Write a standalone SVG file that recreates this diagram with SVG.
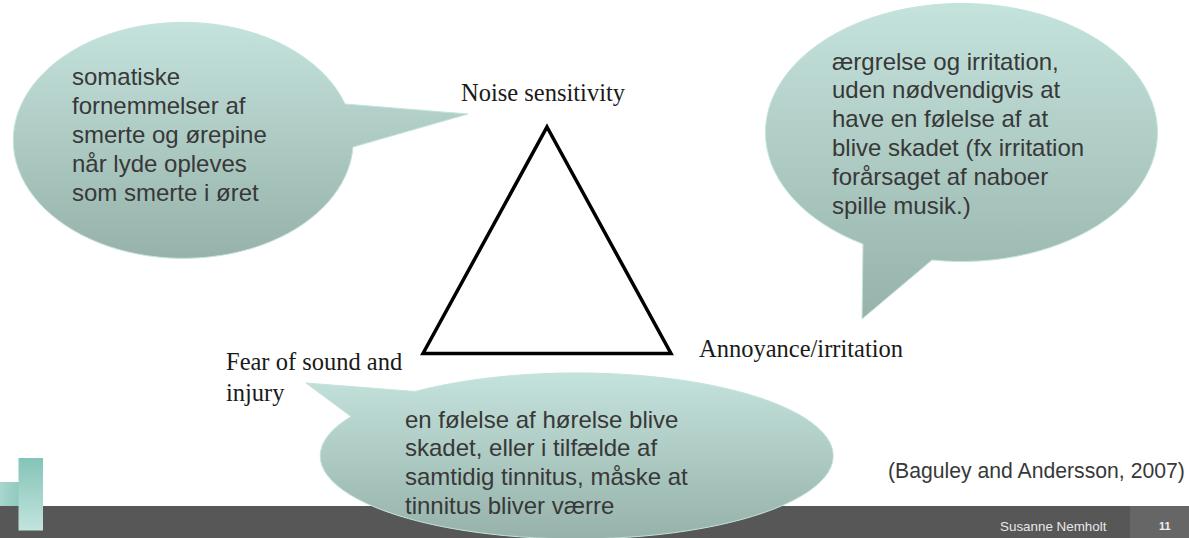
<svg xmlns="http://www.w3.org/2000/svg" width="1189" height="538" viewBox="0 0 1189 538">
<style>
.s{font-family:"Liberation Sans",Arial,sans-serif;font-size:24px;fill:#383838}
.t{font-family:"Liberation Serif","Times New Roman",serif;font-size:24.5px;fill:#1a1a1a}
.b{fill:url(#g);stroke:#c4e3dc;stroke-width:1}
</style>
<defs>
<linearGradient id="g" x1="0" y1="0" x2="0" y2="1"><stop offset="0" stop-color="#c4e3dc"/><stop offset="1" stop-color="#96b2aa"/></linearGradient>
<linearGradient id="h" x1="0" y1="0" x2="0" y2="1"><stop offset="0" stop-color="#84c4b8"/><stop offset="1" stop-color="#c2e4de"/></linearGradient>
<linearGradient id="i" x1="0" y1="0" x2="1" y2="0"><stop offset="0" stop-color="#a8d6cd"/><stop offset="1" stop-color="#8fcabe"/></linearGradient>
</defs>
<rect width="1189" height="538" fill="#fff"/>
<g id="footer">
<rect x="0" y="506" width="1189" height="32" fill="#575757"/>
<rect x="1130" y="506" width="59" height="32" fill="#666"/>
<rect x="0" y="482" width="19" height="24" fill="url(#i)"/>
<rect x="18.5" y="458" width="24.5" height="72.500" fill="url(#h)"/>
<text x="1000" y="531" font-family="Liberation Sans,Arial,sans-serif" font-size="13.4" fill="#e8e8e8">Susanne Nemholt</text>
<text x="1159" y="530" font-family="Liberation Sans,Arial,sans-serif" font-size="11" font-weight="bold" fill="#f0f0f0">11</text>
</g>
<g id="triangle"><polygon points="547,127 671,353.500 423,353.500" fill="none" stroke="#000" stroke-width="3.500"/></g>
<g id="bubble-left">
<path class="b" d="M468,114 L353,147 A170,118 0 1 1 345,104 Z"/>
<text class="s"><tspan x="72" y="85">somatiske</tspan><tspan x="72" y="114">fornemmelser af</tspan><tspan x="72" y="143">smerte og ørepine</tspan><tspan x="72" y="172">når lyde opleves</tspan><tspan x="72" y="201">som smerte i øret</tspan></text>
</g>
<g id="bubble-right">
<path class="b" d="M862,319 L863,244 A196,129 0 1 1 932,260 Z"/>
<text class="s"><tspan x="832" y="70">ærgrelse og irritation,</tspan><tspan x="832" y="98">uden nødvendigvis at</tspan><tspan x="832" y="127">have en følelse af at</tspan><tspan x="832" y="156">blive skadet (fx irritation</tspan><tspan x="832" y="185">forårsaget af naboer</tspan><tspan x="832" y="214">spille musik.)</tspan></text>
</g>
<g id="bubble-bottom">
<path class="b" d="M306,383 L415,391.500 A256.500,83 0 1 1 351,416.500 Z"/>
<text class="s"><tspan x="405" y="428">en følelse af hørelse blive</tspan><tspan x="405" y="456">skadet, eller i tilfælde af</tspan><tspan x="405" y="485">samtidig tinnitus, måske at</tspan><tspan x="405" y="514">tinnitus bliver værre</tspan></text>
</g>
<g id="labels">
<text class="t" x="461" y="101">Noise sensitivity</text>
<text class="t" x="699" y="357">Annoyance/irritation</text>
<text class="t"><tspan x="226" y="370">Fear of sound and</tspan><tspan x="226" y="401">injury</tspan></text>
<text class="s" x="888" y="478" style="font-size:21.200px">(Baguley and Andersson, 2007)</text>
</g>
</svg>
